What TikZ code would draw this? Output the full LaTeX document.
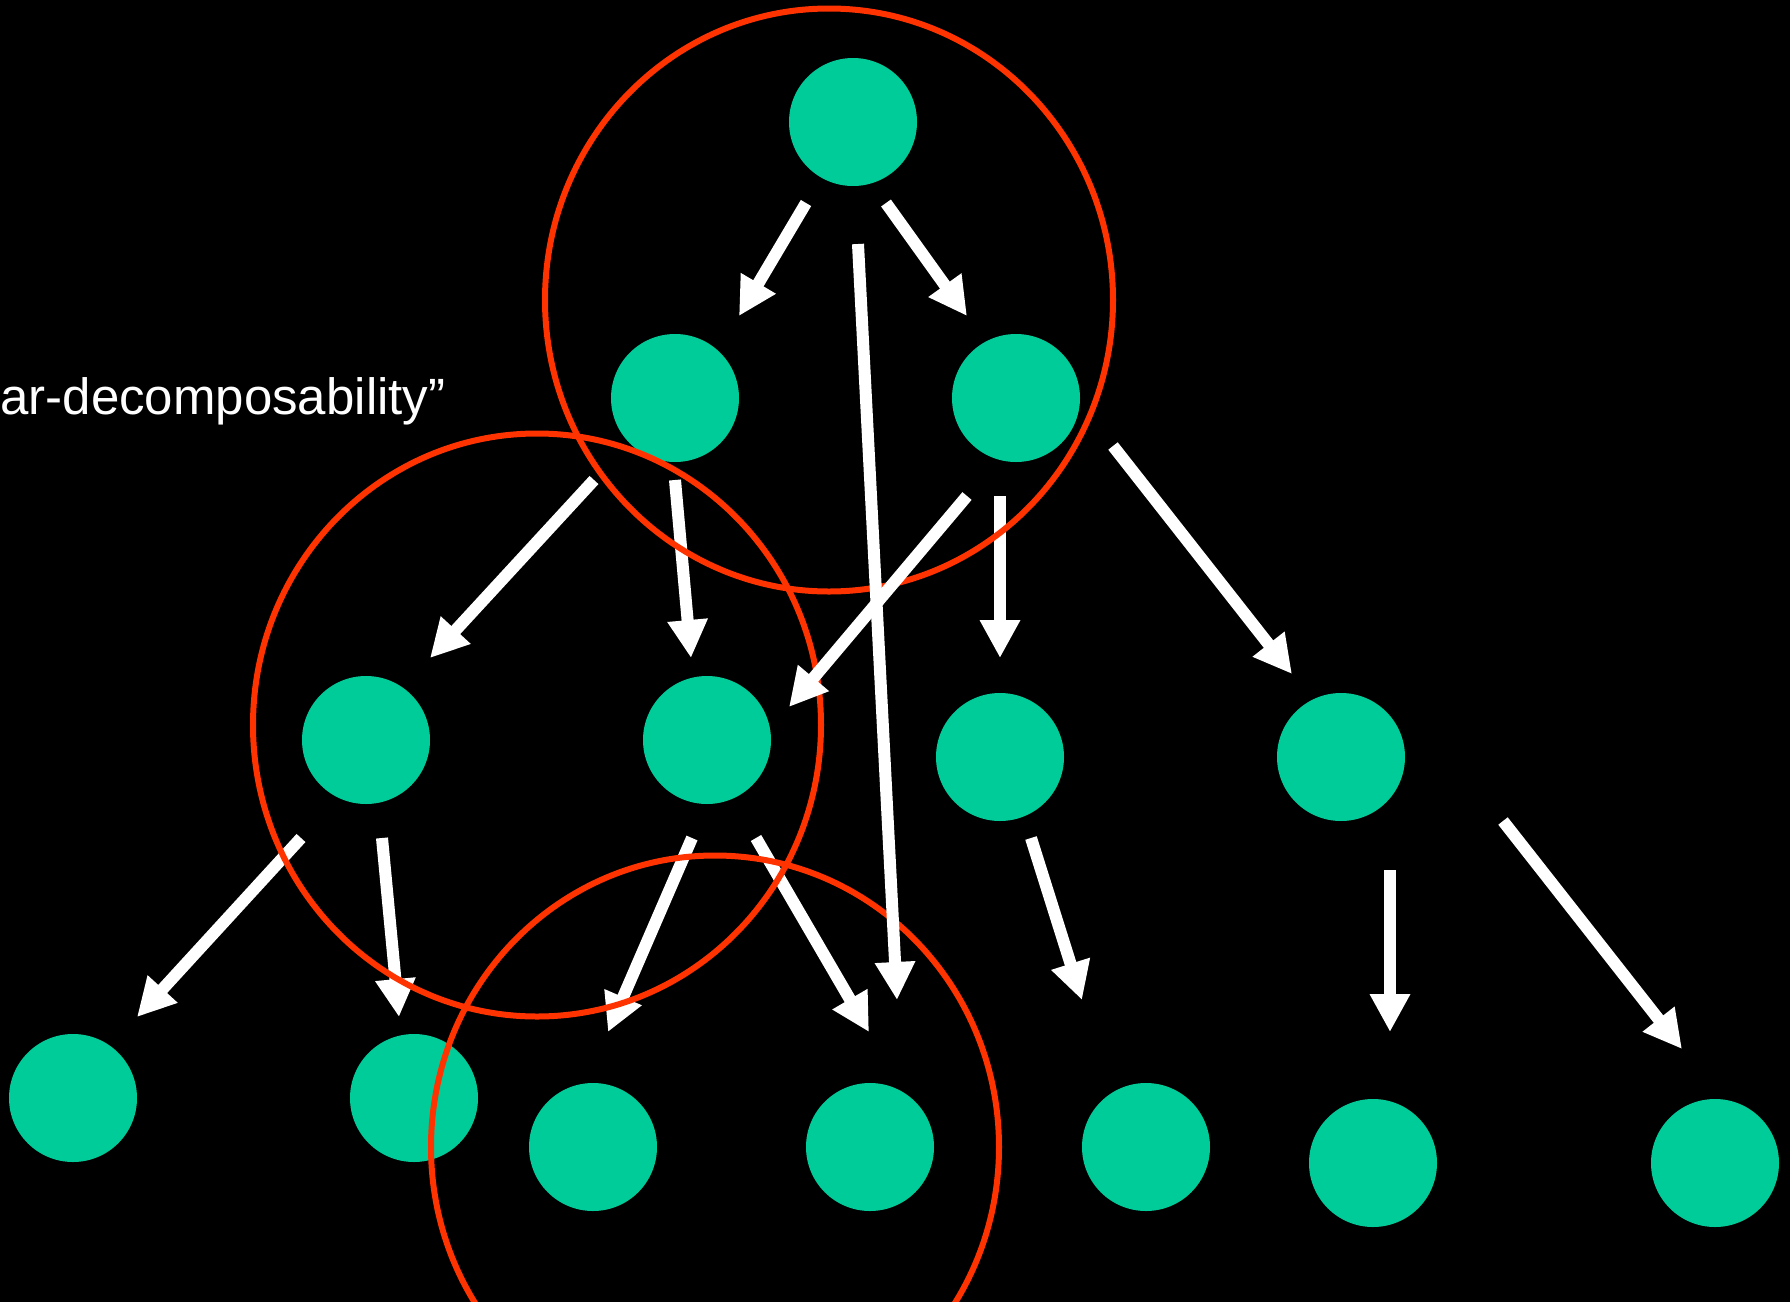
\documentclass[tikz,border=0pt]{standalone}
\usepackage{fontspec}
\setmainfont{Liberation Sans}
\usetikzlibrary{arrows.meta}
\definecolor{nodegreen}{HTML}{00CC99}
\definecolor{ringred}{HTML}{FF3300}
\begin{document}
\begin{tikzpicture}[x=0.5pt,y=-0.5pt,
  dot/.style={circle,fill=nodegreen,inner sep=0pt,minimum size=64pt},
  arr/.style={draw=white,line width=6pt,-{Triangle[length=19pt,width=19pt]}},
  ring/.style={draw=ringred,line width=3pt}]
% canvas
\fill[black] (0,0) rectangle (1790,1302);
\useasboundingbox (0,0) rectangle (1790,1302);
\clip (0,0) rectangle (1790,1302);

% caption
\node[anchor=base west,inner sep=0pt,text=white,
      font=\fontsize{25.5pt}{30pt}\selectfont] (lbl) at (0,414) {ar-decomposability”};

% tree nodes
\node[dot] (r)   at (853,122) {};
\node[dot] (l1a) at (675,398) {};
\node[dot] (l1b) at (1016,398) {};
\node[dot] (l2a) at (366,740) {};
\node[dot] (l2b) at (707,740) {};
\node[dot] (l2c) at (1000,757) {};
\node[dot] (l2d) at (1341,757) {};
\node[dot] (l3a) at (73,1098) {};
\node[dot] (l3b) at (414,1098) {};
\node[dot] (l3c) at (593,1147) {};
\node[dot] (l3d) at (870,1147) {};
\node[dot] (l3e) at (1146,1147) {};
\node[dot] (l3f) at (1373,1163) {};
\node[dot] (l3g) at (1715,1163) {};

% arrow end points
\coordinate (a1s) at (806,203);  \coordinate (a1e) at (739,316);
\coordinate (a2s) at (886,203);  \coordinate (a2e) at (967,316);
\coordinate (a3s) at (858,244);  \coordinate (a3e) at (897,1000);
\coordinate (a4s) at (594,480);  \coordinate (a4e) at (430,658);
\coordinate (a5s) at (675,480);  \coordinate (a5e) at (691,658);
\coordinate (a6s) at (967,496);  \coordinate (a6e) at (789,707);
\coordinate (a7s) at (1000,496); \coordinate (a7e) at (1000,658);
\coordinate (a8s) at (1113,446); \coordinate (a8e) at (1292,674);
\coordinate (a9s) at (301,838);  \coordinate (a9e) at (137,1017);
\coordinate (a10s) at (382,838); \coordinate (a10e) at (399,1017);
\coordinate (a11s) at (692,838); \coordinate (a11e) at (608,1032);
\coordinate (a12s) at (756,838); \coordinate (a12e) at (869,1032);
\coordinate (a13s) at (1031,838); \coordinate (a13e) at (1082,1000);
\coordinate (a14s) at (1390,870); \coordinate (a14e) at (1390,1032);
\coordinate (a15s) at (1503,821); \coordinate (a15e) at (1682,1049);

% arrows lying under the rings
\draw[arr] (a1s) -- (a1e);
\draw[arr] (a2s) -- (a2e);
\draw[arr] (a4s) -- (a4e);
\draw[arr] (a5s) -- (a5e);
\draw[arr] (a7s) -- (a7e);
\draw[arr] (a8s) -- (a8e);
\draw[arr] (a9s) -- (a9e);
\draw[arr] (a10s) -- (a10e);
\draw[arr] (a11s) -- (a11e);
\draw[arr] (a12s) -- (a12e);
\draw[arr] (a13s) -- (a13e);
\draw[arr] (a14s) -- (a14e);
\draw[arr] (a15s) -- (a15e);

% rings
\draw[ring] (829,300) ellipse [x radius=142pt,y radius=145.75pt];
\draw[ring] (537,725) ellipse [x radius=142pt,y radius=145.75pt];
\draw[ring] (715,1147) ellipse [x radius=142pt,y radius=145.75pt];

% arrows lying over the rings
\draw[arr] (a3s) -- (a3e);
\draw[arr] (a6s) -- (a6e);
\end{tikzpicture}
\end{document}
